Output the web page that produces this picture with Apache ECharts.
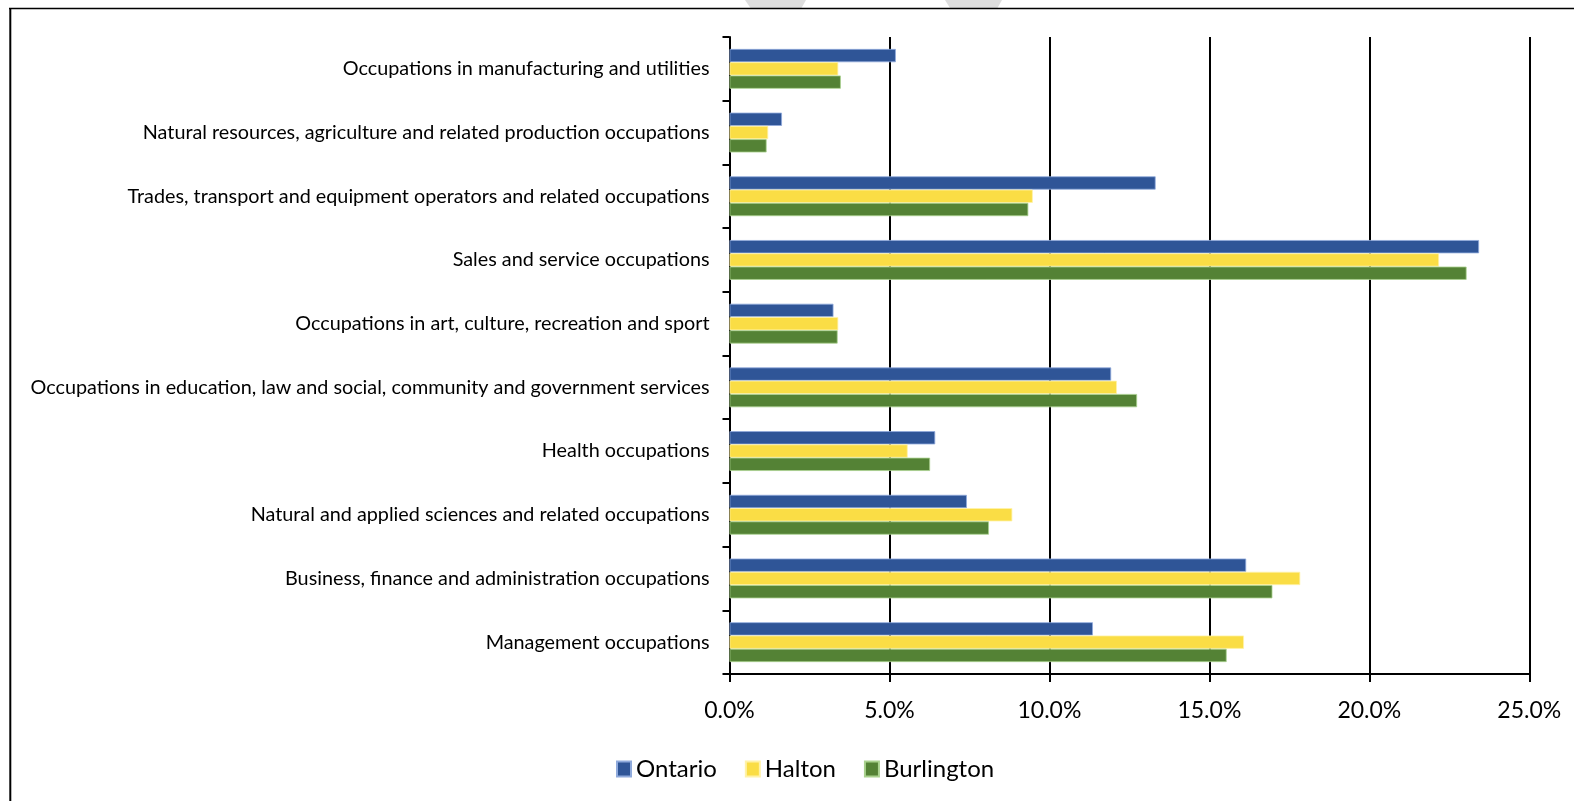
<!DOCTYPE html>
<html>
<head>
<meta charset="utf-8">
<script src="https://cdn.jsdelivr.net/npm/echarts@6/dist/echarts.min.js"></script>
<style>
  html, body { margin: 0; padding: 0; background: #fff; }
  #chart { width: 1574px; height: 801px; }
</style>
</head>
<body>
<div id="chart"></div>
<script>
// Occupation categories, listed bottom to top along the vertical axis
const categories = [
  'Management occupations',
  'Business, finance and administration occupations',
  'Natural and applied sciences and related occupations',
  'Health occupations',
  'Occupations in education, law and social, community and government services',
  'Occupations in art, culture, recreation and sport',
  'Sales and service occupations',
  'Trades, transport and equipment operators and related occupations',
  'Natural resources, agriculture and related production occupations',
  'Occupations in manufacturing and utilities'
];

// Share of employed labour force (%), same order as categories
const ontario    = [11.36, 16.15, 7.42, 6.43, 11.93, 3.25, 23.43, 13.32, 1.64, 5.20];
const halton     = [16.08, 17.84, 8.84, 5.57, 12.11, 3.40, 22.18, 9.48, 1.21, 3.40];
const burlington = [15.54, 16.97, 8.11, 6.27, 12.74, 3.38, 23.04, 9.34, 1.16, 3.48];

const seriesNames = ['Ontario', 'Halton', 'Burlington'];
const xTicks = { min: 0, max: 25, interval: 5 };

const FONT = 'Lato, "Open Sans", sans-serif';
const colors = ['#2F5597', '#FADD45', '#548235'];
const edges  = ['#8FAADC', '#FFF2A8', '#A9D18E'];

const chart = echarts.init(document.getElementById('chart'), null, { renderer: 'canvas' });

const mkSeries = (name, data, i) => ({
  name: name,
  type: 'bar',
  data: data,
  barGap: '0%',
  barCategoryGap: '37.5%',
  itemStyle: { color: colors[i], borderColor: edges[i], borderWidth: 0.8 },
  emphasis: { disabled: true },
  z: 3
});

chart.setOption({
  animation: false,
  backgroundColor: '#ffffff',
  textStyle: { fontFamily: FONT },
  grid: { left: 729.5, right: 44.7, top: 37, bottom: 127, containLabel: false },
  legend: {
    data: seriesNames,
    left: 611,
    top: 752,
    icon: 'rect',
    itemWidth: 14,
    itemHeight: 15,
    itemGap: 28,
    textStyle: { fontFamily: FONT, fontSize: 24, color: '#000' }
  },
  xAxis: {
    type: 'value',
    min: xTicks.min,
    max: xTicks.max,
    interval: xTicks.interval,
    axisLine: { show: true, lineStyle: { color: '#000', width: 2 } },
    axisTick: { show: true, length: 8, lineStyle: { color: '#000', width: 2 } },
    splitLine: { show: true, lineStyle: { color: '#000', width: 2 } },
    axisLabel: {
      margin: 25,
      fontFamily: FONT,
      fontSize: 23,
      color: '#000',
      formatter: v => v.toFixed(1) + '%'
    }
  },
  yAxis: {
    type: 'category',
    data: categories,
    axisLine: { show: true, lineStyle: { color: '#000', width: 2 } },
    axisTick: { show: true, length: 7, lineStyle: { color: '#000', width: 2 } },
    axisLabel: { margin: 20, fontFamily: FONT, fontSize: 19.8, color: '#000' }
  },
  series: [
    mkSeries(seriesNames[0], ontario, 0),
    mkSeries(seriesNames[1], halton, 1),
    mkSeries(seriesNames[2], burlington, 2)
  ],
  graphic: [
    // faint watermark strokes above the frame
    { type: 'polygon', silent: true, z: 0,
      shape: { points: [[745, 0], [806, 0], [801.5, 8], [750.5, 8]] },
      style: { fill: '#dedede' } },
    { type: 'polygon', silent: true, z: 0,
      shape: { points: [[945, 0], [1002, 0], [997.5, 8], [950, 8]] },
      style: { fill: '#dedede' } },
    // outer frame (top and left edges)
    { type: 'line', silent: true, z: 10,
      shape: { x1: 9, y1: 8.5, x2: 1574, y2: 8.5 },
      style: { stroke: '#000', lineWidth: 1.6 } },
    { type: 'line', silent: true, z: 10,
      shape: { x1: 10.3, y1: 8, x2: 10.3, y2: 801 },
      style: { stroke: '#000', lineWidth: 2 } }
  ]
});
</script>
</body>
</html>
